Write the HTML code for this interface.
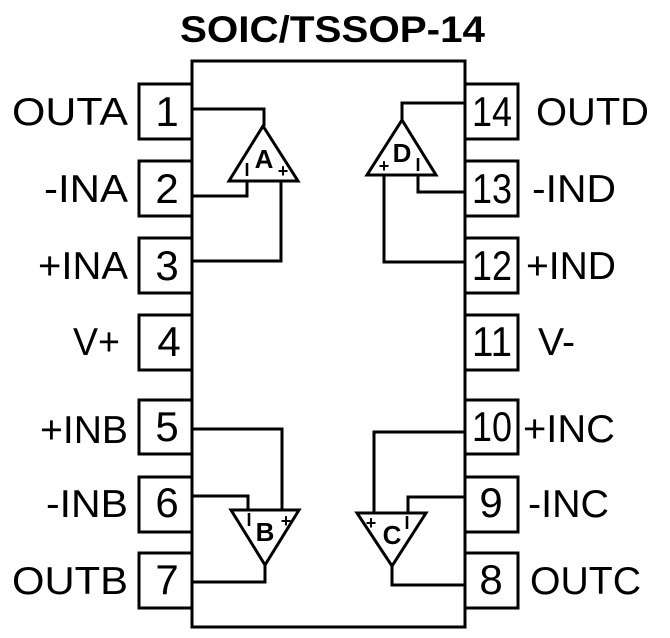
<!DOCTYPE html>
<html><head><style>
body{margin:0;background:#fff}
svg{display:block}
text{font-family:"Liberation Sans",Arial,sans-serif;fill:#000}
</style></head><body>
<svg width="670" height="638" viewBox="0 0 670 638" xmlns="http://www.w3.org/2000/svg">
<g fill="none" stroke="#000" stroke-width="3">
<rect x="192" y="61" width="273" height="566" fill="#fff"/>
<rect x="139" y="84" width="53" height="55" fill="#fff"/>
<rect x="139" y="161" width="53" height="55" fill="#fff"/>
<rect x="139" y="238" width="53" height="55" fill="#fff"/>
<rect x="139" y="315" width="53" height="55" fill="#fff"/>
<rect x="139" y="400" width="53" height="54" fill="#fff"/>
<rect x="139" y="477" width="53" height="55" fill="#fff"/>
<rect x="139" y="553" width="53" height="55" fill="#fff"/>
<rect x="465" y="84" width="53" height="55" fill="#fff"/>
<rect x="465" y="161" width="53" height="55" fill="#fff"/>
<rect x="465" y="238" width="53" height="55" fill="#fff"/>
<rect x="465" y="315" width="53" height="55" fill="#fff"/>
<rect x="465" y="400" width="53" height="54" fill="#fff"/>
<rect x="465" y="477" width="53" height="55" fill="#fff"/>
<rect x="465" y="553" width="53" height="55" fill="#fff"/>
<polygon points="263,126 229,181 298,181"/>
<polyline points="192,109 264,109 264,126"/>
<polyline points="247,181 247,196 192,196"/>
<polyline points="281,181 281,261 192,261"/>
<polygon points="402,120 367,175 436,175"/>
<polyline points="465,103 402,103 402,120"/>
<polyline points="418,175 418,192 465,192"/>
<polyline points="384,175 384,262 465,262"/>
<polygon points="231,510 299,510 265,565"/>
<polyline points="265,565 265,582 192,582"/>
<polyline points="248,510 248,496 192,496"/>
<polyline points="282,510 282,429 192,429"/>
<polygon points="357,513 426,513 392,566"/>
<polyline points="392,566 392,585 465,585"/>
<polyline points="374,513 374,432 465,432"/>
<polyline points="408,513 408,497 465,497"/>
</g>
<g font-size="18" font-weight="bold" text-anchor="middle">
<text x="247" y="176">I</text><text x="283" y="177">+</text>
<text x="418" y="171">I</text><text x="384" y="172">+</text>
<text x="249" y="526">I</text><text x="286" y="527">+</text>
<text x="371" y="529">+</text><text x="407" y="529">I</text>
</g>
<g font-size="26" font-weight="bold" text-anchor="middle">
<text x="264" y="168">A</text>
<text x="402" y="162">D</text>
<text x="265" y="541">B</text>
<text x="392" y="544">C</text>
</g>
<text x="180" y="42" font-size="37" font-weight="bold" textLength="305" lengthAdjust="spacingAndGlyphs">SOIC/TSSOP-14</text>
<g font-size="42" text-anchor="middle">
<text x="167" y="126">1</text><text x="167" y="203">2</text><text x="167" y="280">3</text>
<text x="169" y="356">4</text><text x="167" y="441">5</text><text x="167" y="517">6</text>
<text x="167" y="594">7</text>
<text x="492" y="126" textLength="40" lengthAdjust="spacingAndGlyphs">14</text>
<text x="492" y="203" textLength="40" lengthAdjust="spacingAndGlyphs">13</text>
<text x="492" y="280" textLength="40" lengthAdjust="spacingAndGlyphs">12</text>
<text x="492" y="356" textLength="40" lengthAdjust="spacingAndGlyphs">11</text>
<text x="492" y="441" textLength="40" lengthAdjust="spacingAndGlyphs">10</text>
<text x="491" y="517">9</text>
<text x="491" y="594">8</text>
</g>
<g font-size="39">
<text x="12" y="125" textLength="116" lengthAdjust="spacingAndGlyphs">OUTA</text>
<text x="44" y="202" textLength="84" lengthAdjust="spacingAndGlyphs">-INA</text>
<text x="38" y="279" textLength="90" lengthAdjust="spacingAndGlyphs">+INA</text>
<text x="73" y="355" textLength="47" lengthAdjust="spacingAndGlyphs">V+</text>
<text x="40" y="443" textLength="88" lengthAdjust="spacingAndGlyphs">+INB</text>
<text x="46" y="517" textLength="82" lengthAdjust="spacingAndGlyphs">-INB</text>
<text x="12" y="594" textLength="116" lengthAdjust="spacingAndGlyphs">OUTB</text>
<text x="536" y="125" textLength="113" lengthAdjust="spacingAndGlyphs">OUTD</text>
<text x="532" y="202" textLength="84" lengthAdjust="spacingAndGlyphs">-IND</text>
<text x="526" y="279" textLength="90" lengthAdjust="spacingAndGlyphs">+IND</text>
<text x="538" y="355" textLength="37" lengthAdjust="spacingAndGlyphs">V-</text>
<text x="523" y="442" textLength="92" lengthAdjust="spacingAndGlyphs">+INC</text>
<text x="528" y="517" textLength="81" lengthAdjust="spacingAndGlyphs">-INC</text>
<text x="530" y="594" textLength="111" lengthAdjust="spacingAndGlyphs">OUTC</text>
</g>
</svg>
</body></html>
